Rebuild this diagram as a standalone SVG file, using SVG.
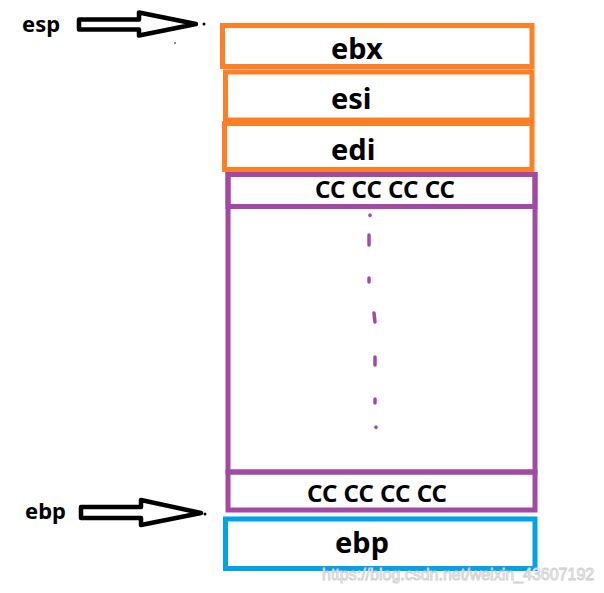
<svg xmlns="http://www.w3.org/2000/svg" width="604" height="593" viewBox="0 0 604 593">
<style>
.box{fill:none;stroke-width:5}
.or{stroke:#FF7F27}
.pu{stroke:#A349A4}
.bl{stroke:#00A2E8}
.lbl{font-family:"Noto Sans","Open Sans","DejaVu Sans",sans-serif;font-weight:bold;fill:#000}
.big{font-size:29px}
.cc{font-size:24px}
.side{font-size:22px}
.arrow{fill:none;stroke:#000;stroke-width:4.5;stroke-linejoin:round}
.dash{stroke:#A349A4;stroke-width:3.5;stroke-linecap:round}
.wm{font-family:"Liberation Sans",Arial,sans-serif;font-size:16px;fill:#fff;stroke:#cfcfcf;stroke-width:0.9}
</style>
<rect width="604" height="593" fill="#fff"/>
<g id="connectors">
<polygon class="arrow" points="79,19.5 139,19.5 139,12.5 196,24 139,35.5 139,29.5 79,29.5"/>
<polygon class="arrow" points="81,507 141,507 141,500 201,513 141,525 141,518 81,518"/>
<circle cx="204" cy="24" r="1.5" fill="#000"/>
<circle cx="205" cy="514" r="1.5" fill="#000"/>
<circle cx="175" cy="43" r="0.8" fill="#000"/>
</g>
<g id="esp-label"><text class="lbl side" x="22" y="32">esp</text></g>
<g id="ebp-label"><text class="lbl side" x="25" y="519">ebp</text></g>
<g id="ebx"><rect class="box or" x="222.5" y="25.5" width="309.5" height="41"/><text class="lbl big" x="331" y="59">ebx</text></g>
<g id="esi"><rect class="box or" x="225.5" y="72" width="306.5" height="48"/><text class="lbl big" x="331" y="109">esi</text></g>
<g id="edi"><rect class="box or" x="224.5" y="123.5" width="307.5" height="46"/><text class="lbl big" x="331" y="160">edi</text></g>
<g id="locals">
<rect class="box pu" x="228" y="174.5" width="307" height="297.5"/>
<rect class="box pu" x="228" y="174.5" width="307" height="32"/>
<text class="lbl cc" x="385" y="198" text-anchor="middle">CC CC CC CC</text>
<line class="dash" x1="370" y1="215" x2="370" y2="215.5"/>
<line class="dash" x1="369" y1="235" x2="369" y2="245"/>
<line class="dash" x1="369" y1="278" x2="369" y2="282"/>
<line class="dash" x1="374" y1="313" x2="375" y2="322"/>
<line class="dash" x1="375" y1="357" x2="375" y2="365"/>
<line class="dash" x1="375" y1="399" x2="375" y2="403"/>
<line class="dash" x1="376" y1="427" x2="376" y2="427.5"/>
</g>
<g id="cc-bottom"><rect class="box pu" x="228" y="472" width="307" height="38"/><text class="lbl cc" x="377" y="502" text-anchor="middle">CC CC CC CC</text></g>
<g id="ebp"><rect class="box bl" x="225.5" y="519" width="309.5" height="49.5"/><text class="lbl big" x="335" y="553">ebp</text></g>
<text class="wm" x="322" y="580">https://blog.csdn.net/weixin_43607192</text>
</svg>
